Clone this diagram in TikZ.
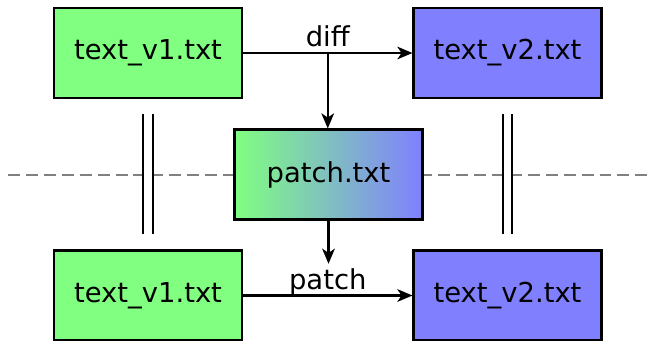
\documentclass[tikz,border=0pt]{standalone}
\usepackage{fontspec}
\setmainfont{DejaVu Sans}
\usetikzlibrary{arrows.meta}

\definecolor{vgreen}{RGB}{128,255,128}
\definecolor{vblue}{RGB}{128,128,255}

\begin{document}
\begin{tikzpicture}[
        font=\fontsize{7.8}{9}\selectfont,
        line width=0.6pt,
        filebox/.style={draw, minimum width=1.88cm, minimum height=0.9cm, inner sep=0pt},
        arr/.style={-{Stealth[length=4.3pt, width=3.6pt, inset=1.2pt]}},
        lbl/.style={above, inner sep=1.5pt, text depth=0pt},
        same/.style={double, double distance=2pt, shorten <=0.15cm, shorten >=0.15cm}
    ]
        \useasboundingbox (0, 0) rectangle (6.48, 3.40);
        % 虚线
        \draw [gray, dash pattern=on 3.4pt off 1.7pt] (0.08, 1.65) -- (6.48, 1.65);
        % 文件
        \node [filebox, fill=vgreen] (v1top) at (1.48, 2.87) {text\_v1.txt};
        \node [filebox, fill=vblue] (v2top) at (5.075, 2.87) {text\_v2.txt};
        \node [filebox, left color=vgreen, right color=vblue] (patch) at (3.285, 1.655) {patch.txt};
        \node [filebox, fill=vgreen] (v1bot) at (1.48, 0.445) {text\_v1.txt};
        \node [filebox, fill=vblue] (v2bot) at (5.075, 0.445) {text\_v2.txt};
        % 箭头
        \draw [arr] (v1top) -- coordinate (split) node [lbl] {diff} (v2top);
        \draw [arr] (split) -- (split |- patch.north);
        \draw [arr] (v1bot) -- node [lbl] (plabel) {patch} (v2bot);
        \draw [arr] (patch.south) -- ([yshift=-0.5pt]patch.south |- plabel.north);
        % 相等
        \draw [same] (v1top) -- (v1bot);
        \draw [same] (v2top) -- (v2bot);
    \end{tikzpicture}
\end{document}
